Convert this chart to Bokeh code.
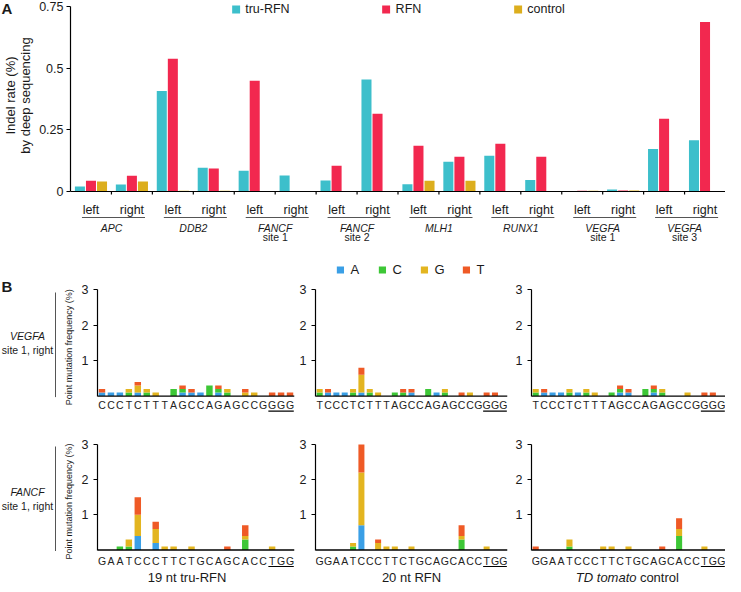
import numpy as np
from bokeh.plotting import figure
from bokeh.models import ColumnDataSource, Range1d, FixedTicker, Span, Legend, LegendItem
from bokeh.layouts import row, column
from bokeh.transform import dodge
from bokeh.core.properties import value
from bokeh.embed import file_html
from bokeh.resources import INLINE

FONT = "Liberation Sans"
INK = "#1a1a1a"

# ---------------- Panel A data ----------------
site_names = ["APC", "DDB2", "FANCF", "FANCF", "MLH1", "RUNX1", "VEGFA", "VEGFA"]
site_notes = ["", "", "site 1", "site 2", "", "", "site 1", "site 3"]
side_labels = ["left", "right"]
indel_tru_rfn = [0.020, 0.028, 0.407, 0.096, 0.084, 0.065, 0.045, 0.453,
                 0.029, 0.120, 0.145, 0.047, 0.002, 0.008, 0.172, 0.207]
indel_rfn = [0.044, 0.064, 0.537, 0.093, 0.448, 0.001, 0.104, 0.315,
             0.185, 0.141, 0.193, 0.141, 0.003, 0.004, 0.295, 0.686]
indel_control = [0.040, 0.040, 0.003, 0.003, 0.001, 0.001, 0.002, 0.002,
                 0.044, 0.044, 0.002, 0.002, 0.003, 0.004, 0.002, 0.002]
series_names = ["tru-RFN", "RFN", "control"]
y_ticks_a = [0, 0.25, 0.5, 0.75]

COL_TRU, COL_RFN, COL_CTRL = "#3dbfcb", "#f2284f", "#dcae1d"

# ---------------- Panel B data ----------------
bases = ["A", "C", "G", "T"]
BASE_COLORS = ["#3a9fe6", "#3dc736", "#e3b520", "#ef5a26"]
b_ticks = [1, 2, 3]

seq_vegfa_tru = "CCCTCTTTAGCCAGAGCCGGGG"
vegfa_tru_A = [.1, .1, .1, 0, .1, 0, 0, 0, 0, .1, .1, .1, 0, .1, 0, 0, 0, 0, 0, 0, 0, 0]
vegfa_tru_C = [0, 0, 0, .1, 0, .1, 0, 0, .2, .1, 0, 0, .3, .1, .1, 0, 0, 0, 0, 0, 0, 0]
vegfa_tru_G = [0, 0, 0, .1, .2, .1, .1, 0, 0, 0, 0, 0, 0, 0, .1, 0, .1, .1, 0, 0, 0, 0]
vegfa_tru_T = [.1, 0, 0, 0, .1, 0, 0, 0, 0, .1, .1, 0, 0, .1, 0, 0, .1, 0, 0, .1, .1, .1]

seq_vegfa_rfn = "TCCCTCTTTAGCCAGAGCCGGGG"
vegfa_rfn_A = [0, .1, .1, .1, 0, .1, 0, 0, 0, 0, 0, .1, 0, 0, .1, 0, 0, 0, 0, 0, 0, 0, 0]
vegfa_rfn_C = [.1, 0, 0, 0, .1, 0, .1, 0, 0, .1, .1, 0, 0, .2, 0, .1, 0, 0, 0, 0, 0, 0, 0]
vegfa_rfn_G = [.1, 0, 0, 0, .1, .5, .1, .1, 0, 0, 0, 0, 0, 0, 0, .1, 0, 0, .1, 0, 0, 0, 0]
vegfa_rfn_T = [0, .1, 0, 0, 0, .2, 0, 0, 0, 0, .1, .1, 0, 0, 0, 0, 0, .1, 0, 0, .1, .1, 0]

seq_vegfa_ctrl = "TCCCTCTTTAGCCAGAGCCGGGG"
vegfa_ctrl_A = [0, .1, .1, .1, 0, .1, 0, 0, 0, 0, .1, .1, 0, 0, .1, 0, 0, 0, 0, 0, 0, 0, 0]
vegfa_ctrl_C = [.1, 0, 0, 0, .1, 0, .1, 0, 0, .1, .1, 0, 0, .2, .1, .1, 0, 0, 0, 0, 0, 0, 0]
vegfa_ctrl_G = [.1, 0, 0, 0, .1, 0, .1, .1, 0, 0, 0, 0, 0, 0, 0, .1, 0, 0, .1, 0, 0, 0, 0]
vegfa_ctrl_T = [0, .1, 0, 0, 0, 0, 0, 0, 0, 0, .1, .1, 0, 0, .1, 0, 0, 0, 0, 0, .1, .1, 0]

seq_fancf_tru = "GAATCCCTTCTGCAGCACCTGG"
fancf_tru_A = [0, 0, 0, 0, .4, 0, .2, 0, 0, 0, 0, 0, 0, 0, 0, 0, 0, 0, 0, 0, 0, 0]
fancf_tru_C = [0, 0, .1, .1, 0, 0, 0, 0, 0, 0, 0, 0, 0, 0, 0, 0, .3, 0, 0, 0, 0, 0]
fancf_tru_G = [0, 0, 0, .2, .6, 0, .4, .1, .1, 0, .1, 0, 0, 0, 0, 0, .1, 0, 0, .1, 0, 0]
fancf_tru_T = [0, 0, 0, 0, .5, 0, .2, 0, 0, 0, 0, 0, 0, 0, .1, 0, .3, 0, 0, 0, 0, 0]

seq_fancf_rfn = "GGAATCCCTTCTGCAGCACCTGG"
fancf_rfn_A = [0, 0, 0, 0, 0, .7, 0, 0, 0, 0, 0, 0, 0, 0, 0, 0, 0, 0, 0, 0, 0, 0, 0]
fancf_rfn_C = [0, 0, 0, 0, .1, 0, 0, 0, 0, 0, 0, 0, 0, 0, 0, 0, 0, .3, 0, 0, 0, 0, 0]
fancf_rfn_G = [0, 0, 0, 0, .1, 1.5, 0, .2, .1, .1, 0, .1, 0, 0, 0, 0, 0, .1, 0, 0, .1, 0, 0]
fancf_rfn_T = [0, 0, 0, 0, 0, .8, 0, .1, 0, 0, 0, 0, 0, 0, 0, 0, 0, .3, 0, 0, 0, 0, 0]

seq_fancf_ctrl = "GGAATCCCTTCTGCAGCACCTGG"
fancf_ctrl_A = [0] * 23
fancf_ctrl_C = [0, 0, 0, 0, .1, 0, 0, 0, 0, 0, 0, 0, 0, 0, 0, 0, 0, .4, 0, 0, 0, 0, 0]
fancf_ctrl_G = [0, 0, 0, 0, .2, 0, 0, 0, .1, .1, 0, .1, 0, 0, 0, 0, 0, .2, 0, 0, .1, 0, 0]
fancf_ctrl_T = [.1, 0, 0, 0, 0, 0, 0, 0, 0, 0, 0, 0, 0, 0, 0, .1, 0, .3, 0, 0, 0, 0, 0]

row_titles = [("VEGFA", "site 1, right"), ("FANCF", "site 1, right")]
col_captions = ["19 nt tru-RFN", "20 nt RFN", ("TD tomato", "control")]
b_ylabel = "Point mutation frequency (%)"


def txt(p, x, y, t, size, align="center", style="normal", angle=0.0, color=INK, baseline="middle"):
    p.text(x=x, y=y, text=t, text_font=value(FONT), text_font_size=value(size),
           text_align=align, text_baseline=baseline, text_font_style=style,
           text_color=color, angle=angle)


def blank(width, height):
    p = figure(width=width, height=height, x_range=Range1d(0, width), y_range=Range1d(height, 0),
               x_axis_location=None, y_axis_location=None, toolbar_location=None,
               output_backend="svg", min_border=0, outline_line_color=None)
    p.grid.visible = False
    return p


def style_yaxis(p, ticks, bounds, size):
    ax = p.yaxis[0]
    ax.ticker = FixedTicker(ticks=ticks)
    ax.bounds = bounds
    ax.axis_line_color = "black"
    ax.axis_line_width = 1.2
    ax.major_tick_line_color = "black"
    ax.major_tick_out = 4
    ax.major_tick_in = 0
    ax.minor_tick_line_color = None
    ax.major_label_text_font = FONT
    ax.major_label_text_font_size = size
    ax.major_label_text_color = INK


# ---------------- Panel A ----------------
A_LEFT, A_FRAME_W, A_H, A_ZERO, A_PPU = 32, 657, 244, 191, 247.0
pA = figure(width=A_LEFT + A_FRAME_W, height=A_H,
            x_range=Range1d(-0.5, 15.5),
            y_range=Range1d(-(A_H - A_ZERO) / A_PPU, A_ZERO / A_PPU),
            x_axis_location=None, toolbar_location=None, output_backend="svg",
            min_border_left=A_LEFT, min_border_right=0, min_border_top=0, min_border_bottom=0,
            outline_line_color=None)
pA.grid.visible = False
style_yaxis(pA, y_ticks_a, (0, 0.75), "12.5px")
pA.yaxis[0].major_label_standoff = 3
pA.yaxis[0].major_label_overrides = {0: "0", 0.25: "0.25", 0.5: "0.5", 0.75: "0.75"}

slots = np.arange(len(indel_tru_rfn))
srcA = ColumnDataSource(dict(x=slots, tru=indel_tru_rfn, rfn=indel_rfn, ctrl=indel_control))
rt = pA.vbar(x=dodge("x", -0.27, range=pA.x_range), top="tru", width=0.245, source=srcA,
             fill_color=COL_TRU, line_color=None)
rr = pA.vbar(x=dodge("x", 0.0, range=pA.x_range), top="rfn", width=0.245, source=srcA,
             fill_color=COL_RFN, line_color=None)
rc = pA.vbar(x=dodge("x", 0.27, range=pA.x_range), top="ctrl", width=0.245, source=srcA,
             fill_color=COL_CTRL, line_color=None)
pA.add_layout(Span(location=0, dimension="width", line_color="black", line_width=1.2))


def dA(px):
    return -px / A_PPU


bounds_x = slots[:-1] + 0.5
pA.segment(x0=bounds_x, y0=0, x1=bounds_x, y1=dA(3), line_color="black", line_width=1.2)
txt(pA, slots, [dA(18)] * len(slots), side_labels * len(site_names), "12.5px")
groups = np.arange(len(site_names))
gl = 2 * groups
gr = 2 * groups + 1
pA.segment(x0=gl - 0.22, y0=dA(26), x1=gr + 0.32, y1=dA(26), line_color="#555555", line_width=1)
gc = (gl + gr) / 2.0
txt(pA, gc, [dA(36)] * len(gc), site_names, "10.5px", style="italic")
txt(pA, gc, [dA(45.5)] * len(gc), site_notes, "10.5px")

legA = Legend(items=[LegendItem(label=series_names[0], renderers=[rt]),
                     LegendItem(label=series_names[1], renderers=[rr]),
                     LegendItem(label=series_names[2], renderers=[rc])],
              orientation="horizontal", location="top_center", spacing=91,
              glyph_width=10, glyph_height=10, label_standoff=5, padding=0, margin=2,
              label_height=12, border_line_color=None, background_fill_alpha=0,
              label_text_font=FONT, label_text_font_size="12.5px", label_text_color=INK)
pA.add_layout(legA)

labA = blank(36, A_H)
txt(labA, [1], [8], ["A"], "15px", align="left", style="bold")
txt(labA, [10, 25], [95, 95], ["Indel rate (%)", "by deep sequencing"], "13px", angle=np.pi / 2)

# ---------------- Panel B ----------------
def b_panel(seq, A, C, G, T, left, frame_w, right, height, zero, ppu, letter_px, line_px):
    n = len(seq)
    p = figure(width=left + frame_w + right, height=height,
               x_range=Range1d(-0.5, n - 0.5),
               y_range=Range1d(-(height - zero) / ppu, zero / ppu),
               x_axis_location=None, toolbar_location=None, output_backend="svg",
               min_border_left=left, min_border_right=right, min_border_top=0, min_border_bottom=0,
               outline_line_color=None)
    p.grid.visible = False
    style_yaxis(p, b_ticks, (0, 3), "12.5px")
    p.yaxis[0].major_label_standoff = 5
    src = ColumnDataSource(dict(pos=np.arange(n), A=A, C=C, G=G, T=T))
    rs = p.vbar_stack(bases, x="pos", width=0.72, source=src, fill_color=BASE_COLORS, line_color=None)
    p.add_layout(Span(location=0, dimension="width", line_color="black", line_width=1.4))
    txt(p, np.arange(n), [-letter_px / ppu] * n, list(seq), "10.5px", color="#222222")
    p.segment(x0=[n - 3 - 0.42], y0=[-line_px / ppu], x1=[n - 1 + 0.42], y1=[-line_px / ppu],
              line_color="black", line_width=1.2)
    return p, rs


R1_H, R1_ZERO, R1_PPU = 172, 151.6, 35.5
R2_H, R2_ZERO, R2_PPU = 168, 133.5, 35.2
cols = [(21, 197, 2), (18, 193, 2), (22, 194, 0)]

b11, _ = b_panel(seq_vegfa_tru, vegfa_tru_A, vegfa_tru_C, vegfa_tru_G, vegfa_tru_T, *cols[0], R1_H, R1_ZERO, R1_PPU, 9, 15)
b12, rs12 = b_panel(seq_vegfa_rfn, vegfa_rfn_A, vegfa_rfn_C, vegfa_rfn_G, vegfa_rfn_T, *cols[1], R1_H, R1_ZERO, R1_PPU, 9, 15)
b13, _ = b_panel(seq_vegfa_ctrl, vegfa_ctrl_A, vegfa_ctrl_C, vegfa_ctrl_G, vegfa_ctrl_T, *cols[2], R1_H, R1_ZERO, R1_PPU, 9, 15)
b21, _ = b_panel(seq_fancf_tru, fancf_tru_A, fancf_tru_C, fancf_tru_G, fancf_tru_T, *cols[0], R2_H, R2_ZERO, R2_PPU, 10.5, 16.5)
b22, _ = b_panel(seq_fancf_rfn, fancf_rfn_A, fancf_rfn_C, fancf_rfn_G, fancf_rfn_T, *cols[1], R2_H, R2_ZERO, R2_PPU, 10.5, 16.5)
b23, _ = b_panel(seq_fancf_ctrl, fancf_ctrl_A, fancf_ctrl_C, fancf_ctrl_G, fancf_ctrl_T, *cols[2], R2_H, R2_ZERO, R2_PPU, 10.5, 16.5)

legB = Legend(items=[LegendItem(label=b, renderers=[r]) for b, r in zip(bases, rs12)],
              orientation="horizontal", location="top_center", spacing=17,
              glyph_width=9, glyph_height=9, label_standoff=6, label_width=10, padding=0, margin=18,
              label_height=12, border_line_color=None, background_fill_alpha=0,
              label_text_font=FONT, label_text_font_size="13px", label_text_color=INK)
b12.add_layout(legB)

cap_y = -27.5 / R2_PPU
txt(b21, [(len(seq_fancf_tru) - 1) / 2 - 1.0], [cap_y], [col_captions[0]], "13px")
txt(b22, [(len(seq_fancf_rfn) - 1) / 2], [cap_y], [col_captions[1]], "13px")
mid3 = (len(seq_fancf_ctrl) - 1) / 2 + 1.15
txt(b23, [mid3 - 0.2], [cap_y], [col_captions[2][0]], "13px", align="right", style="italic")
txt(b23, [mid3 + 0.2], [cap_y], [col_captions[2][1]], "13px", align="left")

labB1 = blank(76, R1_H)
txt(labB1, [1], [42], ["B"], "15px", align="left", style="bold")
txt(labB1, [27], [91.4], [row_titles[0][0]], "10.5px", style="italic")
txt(labB1, [27], [105.2], [row_titles[0][1]], "10.5px")
labB1.segment(x0=[55], y0=[48], x1=[55], y1=[152.6], line_color="#555555", line_width=1)
txt(labB1, [68], [102.8], [b_ylabel], "9px", angle=np.pi / 2)

labB2 = blank(76, R2_H)
txt(labB2, [27], [75.6], [row_titles[1][0]], "10.5px", style="italic")
txt(labB2, [27], [89.4], [row_titles[1][1]], "10.5px")
labB2.segment(x0=[55], y0=[30], x1=[55], y1=[134.5], line_color="#555555", line_width=1)
txt(labB2, [68], [85], [b_ylabel], "9px", angle=np.pi / 2)

layout = column(row(labA, pA), row(labB1, b11, b12, b13), row(labB2, b21, b22, b23))

with open("out.html", "w") as f:
    f.write(file_html(layout, INLINE))
